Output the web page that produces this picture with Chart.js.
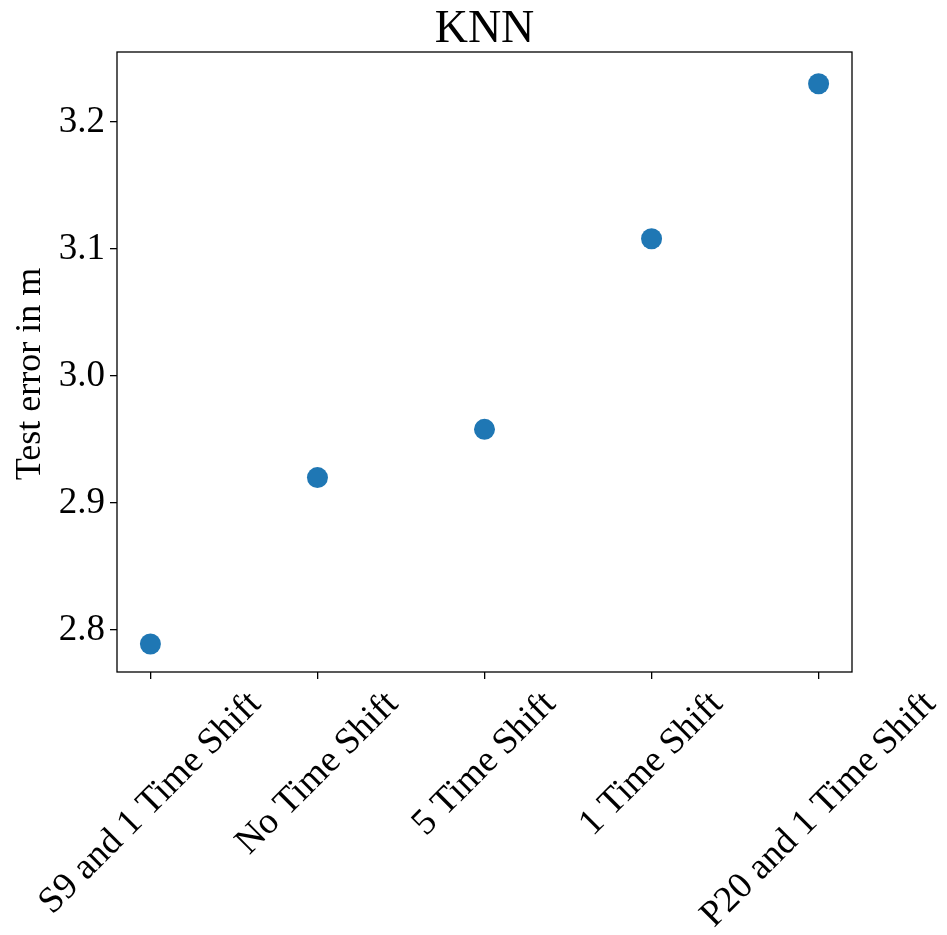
<!DOCTYPE html>
<html>
<head>
<meta charset="utf-8">
<script src="https://cdn.jsdelivr.net/npm/chart.js@4/dist/chart.umd.min.js"></script>
<style>
  html, body { margin: 0; padding: 0; background: #ffffff; }
  #wrap { width: 947px; height: 935px; }
</style>
</head>
<body>
<div id="wrap"><canvas id="c" width="947" height="935"></canvas></div>
<script>
const chartTitle = "KNN";
const categories = ["S9 and 1 Time Shift", "No Time Shift", "5 Time Shift", "1 Time Shift", "P20 and 1 Time Shift"];
const testError = [2.789, 2.920, 2.958, 3.108, 3.230];
const yTicks = [2.8, 2.9, 3.0, 3.1, 3.2];
const yAxisTitle = "Test error in m";

const FONT = "'Liberation Serif', 'Times New Roman', serif";
const points = categories.map((c, i) => ({ x: i, y: testError[i] }));

const frame = {
  id: 'frame',
  afterDatasetsDraw(chart) {
    const { ctx, chartArea: a } = chart;
    ctx.save();
    ctx.strokeStyle = '#000';
    ctx.lineWidth = 1.3;
    ctx.strokeRect(a.left, a.top, a.right - a.left, a.bottom - a.top);
    ctx.restore();
  }
};

const texts = {
  id: 'texts',
  afterDraw(chart) {
    const { ctx, chartArea: a } = chart;
    const xs = chart.scales.x;
    ctx.save();
    ctx.fillStyle = '#000';

    // title
    ctx.font = "46px " + FONT;
    ctx.textAlign = 'center';
    ctx.textBaseline = 'alphabetic';
    ctx.fillText(chartTitle, (a.left + a.right) / 2, 42);

    // y axis title
    ctx.save();
    ctx.font = "36px " + FONT;
    ctx.textAlign = 'center';
    ctx.textBaseline = 'middle';
    ctx.translate(31, (a.top + a.bottom) / 2 + 12);
    ctx.rotate(-Math.PI / 2);
    ctx.fillText(yAxisTitle, 0, 0);
    ctx.restore();

    // x category labels, rotated 45 deg and centred on their ticks
    const size = 37;
    const top = a.bottom + 14;
    const c = Math.SQRT1_2;
    ctx.font = size + "px " + FONT;
    ctx.textAlign = 'center';
    ctx.textBaseline = 'middle';
    categories.forEach((lab, i) => {
      const w = ctx.measureText(lab).width;
      const h = size * 0.95;
      const cx = xs.getPixelForValue(i);
      const cy = top + (w + h) * c / 2;
      ctx.save();
      ctx.translate(cx, cy);
      ctx.rotate(-Math.PI / 4);
      ctx.fillText(lab, 0, 0);
      ctx.restore();
    });
    ctx.restore();
  }
};

new Chart(document.getElementById('c'), {
  type: 'scatter',
  data: {
    datasets: [{
      data: points,
      backgroundColor: '#1f77b4',
      borderColor: '#1f77b4',
      pointRadius: 10.5,
      pointHoverRadius: 10.5,
      borderWidth: 0
    }]
  },
  options: {
    responsive: false,
    animation: false,
    devicePixelRatio: 1,
    layout: { padding: { left: 0, right: 95, top: 52, bottom: 0 } },
    plugins: {
      legend: { display: false },
      tooltip: { enabled: false },
      title: { display: false }
    },
    scales: {
      x: {
        type: 'linear',
        min: -0.2,
        max: 4.2,
        afterBuildTicks: (s) => { s.ticks = categories.map((c, i) => ({ value: i })); },
        afterFit: (s) => { s.height = 263; },
        ticks: { display: false },
        grid: { display: true, drawOnChartArea: false, drawTicks: true, tickLength: 7, color: '#000', lineWidth: 1.3 },
        border: { display: false }
      },
      y: {
        type: 'linear',
        min: 2.767,
        max: 3.255,
        afterBuildTicks: (s) => { s.ticks = yTicks.map(v => ({ value: v })); },
        afterFit: (s) => { s.width = 117; },
        ticks: {
          color: '#000',
          padding: 5,
          font: { family: FONT, size: 37 },
          callback: (v) => Number(v).toFixed(1)
        },
        grid: { display: true, drawOnChartArea: false, drawTicks: true, tickLength: 7, color: '#000', lineWidth: 1.3 },
        border: { display: false },
        title: { display: false }
      }
    }
  },
  plugins: [frame, texts]
});
</script>
</body>
</html>
